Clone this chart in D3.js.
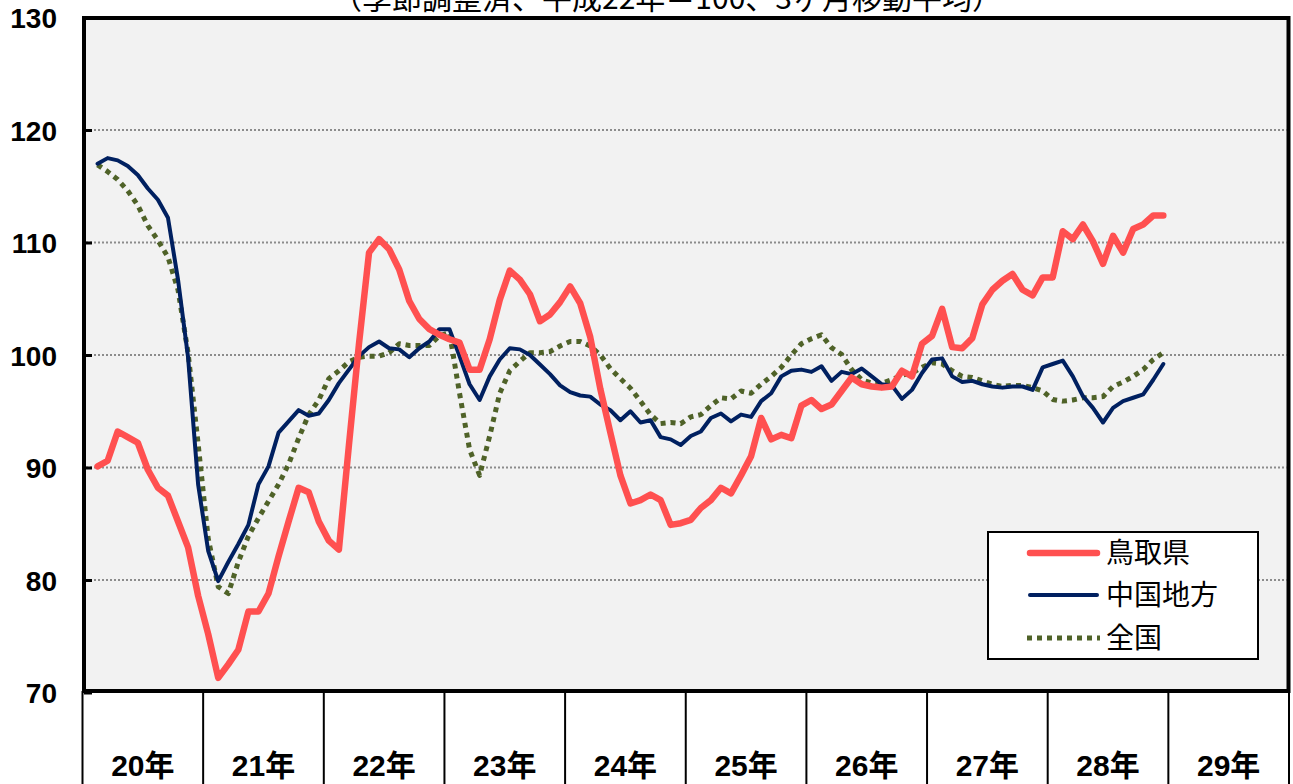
<!DOCTYPE html>
<html>
<head>
<meta charset="utf-8">
<script src="https://cdn.jsdelivr.net/npm/d3@7"></script>
<style>
  html, body { margin: 0; padding: 0; background: #fff; }
  svg { display: block; }
</style>
</head>
<body>
<svg id="chart" width="1293" height="784"></svg>
<script>
// ---- data ----
const titleText = "（季節調整済、平成22年＝100、3ヶ月移動平均）";
const years = ["20年","21年","22年","23年","24年","25年","26年","27年","28年","29年"];
const yTicks = [70, 80, 90, 100, 110, 120, 130];
const startMonth = 1; // first value = February of 20年
const seriesNames = ["鳥取県", "中国地方", "全国"];

const tottori = [
  90.1, 90.6, 93.2, 92.7, 92.2, 89.8, 88.2, 87.5, 85.2, 82.9, 78.6,
  75.2, 71.3, 72.5, 73.8, 77.2, 77.2, 78.8, 82.1, 85.2, 88.2, 87.8, 85.2,
  83.5, 82.7, 92.0, 101.0, 109.1, 110.3, 109.4, 107.6, 104.8, 103.2, 102.3, 101.8,
  101.4, 101.1, 98.7, 98.7, 101.4, 104.9, 107.5, 106.7, 105.4, 103.0, 103.6, 104.7,
  106.1, 104.6, 101.6, 97.0, 93.1, 89.3, 86.8, 87.1, 87.6, 87.1, 84.9, 85.05,
  85.35, 86.4, 87.1, 88.2, 87.7, 89.3, 91.0, 94.4, 92.5, 92.9, 92.6, 95.5,
  96.0, 95.2, 95.6, 96.8, 98.0, 97.4, 97.2, 97.1, 97.2, 98.6, 98.1, 101.0,
  101.7, 104.1, 100.7, 100.6, 101.5, 104.5, 105.8, 106.6, 107.2, 105.8, 105.3, 106.9,
  106.9, 111.0, 110.3, 111.6, 110.1, 108.1, 110.6, 109.1, 111.2, 111.6, 112.4, 112.4
];
const chugoku = [
  117.0, 117.5, 117.3, 116.8, 116.0, 114.8, 113.8, 112.2, 106.7, 99.8, 88.5,
  82.6, 79.9, 81.6, 83.2, 84.9, 88.5, 90.1, 93.1, 94.1, 95.1, 94.6, 94.8,
  96.0, 97.5, 98.7, 99.9, 100.7, 101.2, 100.6, 100.5, 99.8, 100.6, 101.2, 102.3,
  102.3, 99.9, 97.4, 96.0, 98.1, 99.6, 100.6, 100.5, 100.0, 99.15, 98.3, 97.3,
  96.7, 96.4, 96.3, 95.6, 95.1, 94.2, 95.0, 94.0, 94.2, 92.7, 92.5, 92.0,
  92.8, 93.2, 94.4, 94.8, 94.1, 94.7, 94.5, 95.9, 96.6, 98.1, 98.6, 98.7,
  98.5, 99.0, 97.7, 98.5, 98.3, 98.8, 98.1, 97.4, 97.3, 96.1, 96.9, 98.4,
  99.6, 99.7, 98.1, 97.6, 97.7, 97.4, 97.2, 97.1, 97.2, 97.2, 96.9, 98.9,
  99.2, 99.5, 98.1, 96.35, 95.3, 94.0, 95.3, 95.9, 96.2, 96.5, 97.8, 99.2
];
const zenkoku = [
  116.9, 116.3, 115.6, 114.6, 113.3, 111.5, 110.2, 108.7, 105.8, 100.2, 92.1,
  83.7, 79.4, 78.8, 81.6, 83.9, 85.5, 87.0, 88.5, 90.3, 92.6, 94.7, 96.0,
  97.9, 98.6, 99.4, 99.8, 99.9, 99.9, 100.2, 101.0, 100.85, 100.85, 100.85, 101.7,
  102.0, 96.6, 91.6, 89.3, 92.8, 96.6, 98.6, 99.45, 100.2, 100.2, 100.3, 100.8,
  101.2, 101.2, 100.8, 100.0, 98.8, 97.9, 97.05, 95.9, 94.7, 93.9, 94.0, 93.9,
  94.5, 94.7, 95.5, 96.2, 96.1, 96.8, 96.6, 97.4, 98.1, 98.9, 100.0, 101.0,
  101.45, 101.8, 100.65, 100.05, 98.7, 97.8, 97.5, 97.5, 97.8, 98.2, 98.4, 98.9,
  99.3, 99.2, 98.6, 98.1, 98.0, 97.7, 97.4, 97.2, 97.3, 97.3, 97.1, 96.8,
  96.05, 95.9, 96.0, 96.2, 96.2, 96.3, 97.2, 97.6, 98.1, 98.7, 99.6, 100.2
];

// ---- styles (kept apart from data) ----
const seriesStyles = [
  { color: "#FF5050", width: 6.5, dash: null, cap: "round" },
  { color: "#002060", width: 4, dash: null, cap: "round" },
  { color: "#4F6228", width: 5, dash: "5,5", cap: "butt" }
];

const svg = d3.select("#chart");
const plot = { left: 84, right: 1288.5, top: 18, bottom: 691 };

const x = d3.scaleLinear().domain([0, years.length * 12]).range([82.5, 1289]);
const y = d3.scaleLinear().domain([70, 130]).range([692.5, 17.5]);

// title (mostly cut off at top, as in the reference)
svg.append("text")
  .attr("x", 667).attr("y", 9)
  .attr("text-anchor", "middle")
  .attr("font-family", "'Noto Sans CJK JP', sans-serif")
  .attr("font-size", 30)
  .attr("fill", "#000")
  .text(titleText);

// plot background
svg.append("rect")
  .attr("x", plot.left).attr("y", plot.top)
  .attr("width", plot.right - plot.left).attr("height", plot.bottom - plot.top)
  .attr("fill", "#F2F2F2");

// gridlines
svg.append("g").selectAll("line")
  .data(yTicks.filter(v => v > 70 && v < 130))
  .join("line")
  .attr("x1", plot.left + 2).attr("x2", plot.right - 2)
  .attr("y1", d => y(d)).attr("y2", d => y(d))
  .attr("stroke", "#8C8C8C")
  .attr("stroke-width", 2)
  .attr("stroke-dasharray", "2,2");

// series
const allSeries = [tottori, chugoku, zenkoku];
const line = d3.line()
  .x((d, i) => x(startMonth + i + 0.5))
  .y(d => y(d));

const drawOrder = [2, 1, 0];
drawOrder.forEach(k => {
  const st = seriesStyles[k];
  svg.append("path")
    .datum(allSeries[k])
    .attr("d", line)
    .attr("fill", "none")
    .attr("stroke", st.color)
    .attr("stroke-width", st.width)
    .attr("stroke-linejoin", "round")
    .attr("stroke-linecap", st.cap)
    .attr("stroke-dasharray", st.dash);
});

// plot border
svg.append("rect")
  .attr("x", plot.left).attr("y", plot.top)
  .attr("width", plot.right - plot.left).attr("height", plot.bottom - plot.top)
  .attr("fill", "none")
  .attr("stroke", "#000")
  .attr("stroke-width", 4);

// y axis (ticks inward, labels left)
const yAxis = d3.axisLeft(y)
  .tickValues(yTicks)
  .tickFormat(d3.format("d"))
  .tickSizeInner(-8)
  .tickSizeOuter(0)
  .tickPadding(27);
const gy = svg.append("g")
  .attr("transform", `translate(${plot.left},0)`)
  .call(yAxis);
gy.select(".domain").remove();
gy.selectAll(".tick line").attr("stroke", "#000").attr("stroke-width", 3);
gy.selectAll(".tick text")
  .attr("font-family", "'Liberation Sans', Arial, sans-serif")
  .attr("font-weight", "bold")
  .attr("font-size", 28)
  .attr("fill", "#000")
  .attr("dy", "0.36em");

// x category separators and labels
const gx = svg.append("g");
gx.selectAll("line")
  .data(d3.range(years.length + 1))
  .join("line")
  .attr("x1", d => x(d * 12)).attr("x2", d => x(d * 12))
  .attr("y1", plot.bottom).attr("y2", 784)
  .attr("stroke", "#000")
  .attr("stroke-width", 2);
gx.selectAll("text")
  .data(years)
  .join("text")
  .attr("x", (d, i) => x(i * 12 + 6))
  .attr("y", 776)
  .attr("text-anchor", "middle")
  .attr("font-family", "'Liberation Sans', 'Noto Sans CJK JP', sans-serif")
  .attr("font-weight", "bold")
  .attr("font-size", 30)
  .attr("fill", "#000")
  .text(d => d);

// legend
const legend = svg.append("g");
legend.append("rect")
  .attr("x", 988).attr("y", 532)
  .attr("width", 270).attr("height", 127)
  .attr("fill", "#fff")
  .attr("stroke", "#000")
  .attr("stroke-width", 2);
const legendRows = [553, 595, 638];
seriesNames.forEach((name, k) => {
  const st = seriesStyles[k];
  legend.append("line")
    .attr("x1", k === 2 ? 1027 : 1030).attr("x2", k === 2 ? 1100 : 1097)
    .attr("y1", legendRows[k]).attr("y2", legendRows[k])
    .attr("stroke", st.color)
    .attr("stroke-width", st.width)
    .attr("stroke-linecap", st.cap)
    .attr("stroke-dasharray", st.dash);
  legend.append("text")
    .attr("x", 1106).attr("y", legendRows[k] + 10)
    .attr("font-family", "'Noto Sans CJK JP', sans-serif")
    .attr("font-size", 28)
    .attr("fill", "#000")
    .text(name);
});
</script>
</body>
</html>
